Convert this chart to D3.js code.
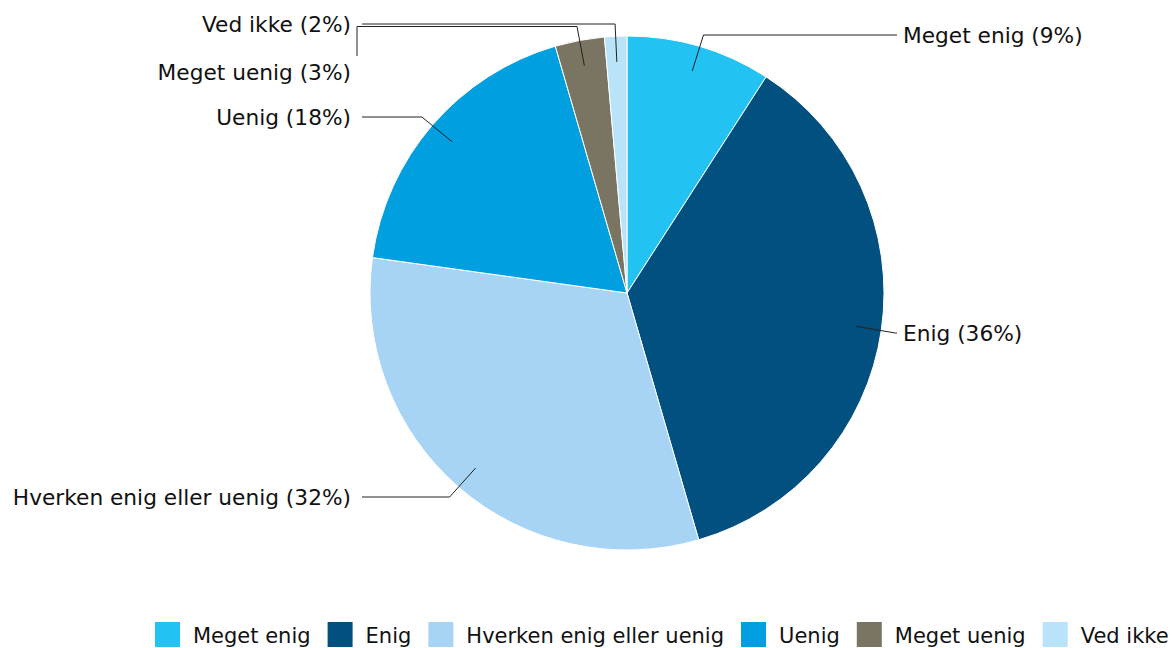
<!DOCTYPE html>
<html>
<head>
<meta charset="utf-8">
<script src="https://cdn.jsdelivr.net/npm/d3@7"></script>
<style>
  body { margin: 0; background: #fff; }
  svg { display: block; font-family: "DejaVu Sans", Verdana, sans-serif; }
</style>
</head>
<body>
<div id="d3-container"></div>
<script>
const categories = ['Meget enig', 'Enig', 'Hverken enig eller uenig', 'Uenig', 'Meget uenig', 'Ved ikke'];
const values = [9.1, 36.4, 31.7, 18.3, 3.1, 1.4];
const pctLabels = ['9%', '36%', '32%', '18%', '3%', '2%'];
const colors = ['#22c3f3', '#02507f', '#a7d3f4', '#009fdf', '#797562', '#b8e3f8'];

const width = 1172;
const height = 648;
const cx = 627, cy = 293, radius = 257;

// label y positions (pushed apart where they would collide)
const labelY = [35, 333, 497, 117, 72, 24];

const data = categories.map((c, i) => ({ name: c, value: values[i], pct: pctLabels[i], color: colors[i], ly: labelY[i] }));

const svg = d3.select('#d3-container')
    .append('svg')
    .attr('width', width)
    .attr('height', height);

const pie = d3.pie().sort(null).value(d => d.value);
const arc = d3.arc().innerRadius(0).outerRadius(radius);
const arcs = pie(data);

const g = svg.append('g').attr('transform', `translate(${cx},${cy})`);

g.selectAll('path')
    .data(arcs)
    .join('path')
    .attr('d', arc)
    .attr('fill', d => d.data.color)
    .attr('stroke', '#fff')
    .attr('stroke-width', 1);

function polar(a, r) {
    return [Math.sin(a) * r, -Math.cos(a) * r];
}

const labelX = 270;

arcs.forEach(d => {
    const mid = (d.startAngle + d.endAngle) / 2;
    const right = Math.sin(mid) > 0;
    const p0 = polar(mid, radius * 0.9);
    const p1 = polar(mid, radius * 1.055);
    const ly = d.data.ly - cy;
    const endX = right ? labelX : -labelX;
    let pts;
    if (Math.abs(ly - p1[1]) > 12) {
        pts = [p0, p1, [endX, p1[1]], [endX, ly - 16]];
    } else {
        pts = [p0, [p1[0], ly], [right ? endX : endX + 5, ly]];
    }
    g.append('path')
        .attr('d', d3.line()(pts))
        .attr('fill', 'none')
        .attr('stroke', '#222')
        .attr('stroke-width', 1);

    g.append('text')
        .attr('x', right ? endX + 6 : endX - 6)
        .attr('y', ly)
        .attr('dy', '0.36em')
        .attr('text-anchor', right ? 'start' : 'end')
        .attr('font-size', '21.7px')
        .attr('fill', '#111')
        .text(`${d.data.name} (${d.data.pct})`);
});

// legend
const legend = svg.append('g').attr('transform', 'translate(155,622)');
let lx = 0;
data.forEach(d => {
    const item = legend.append('g').attr('transform', `translate(${lx},0)`);
    item.append('rect')
        .attr('width', 25)
        .attr('height', 25)
        .attr('fill', d.color);
    const t = item.append('text')
        .attr('x', 38)
        .attr('y', 13)
        .attr('dy', '0.36em')
        .attr('font-size', '21px')
        .attr('fill', '#111')
        .text(d.name);
    lx += 38 + t.node().getComputedTextLength() + 17;
});
</script>
</body>
</html>
